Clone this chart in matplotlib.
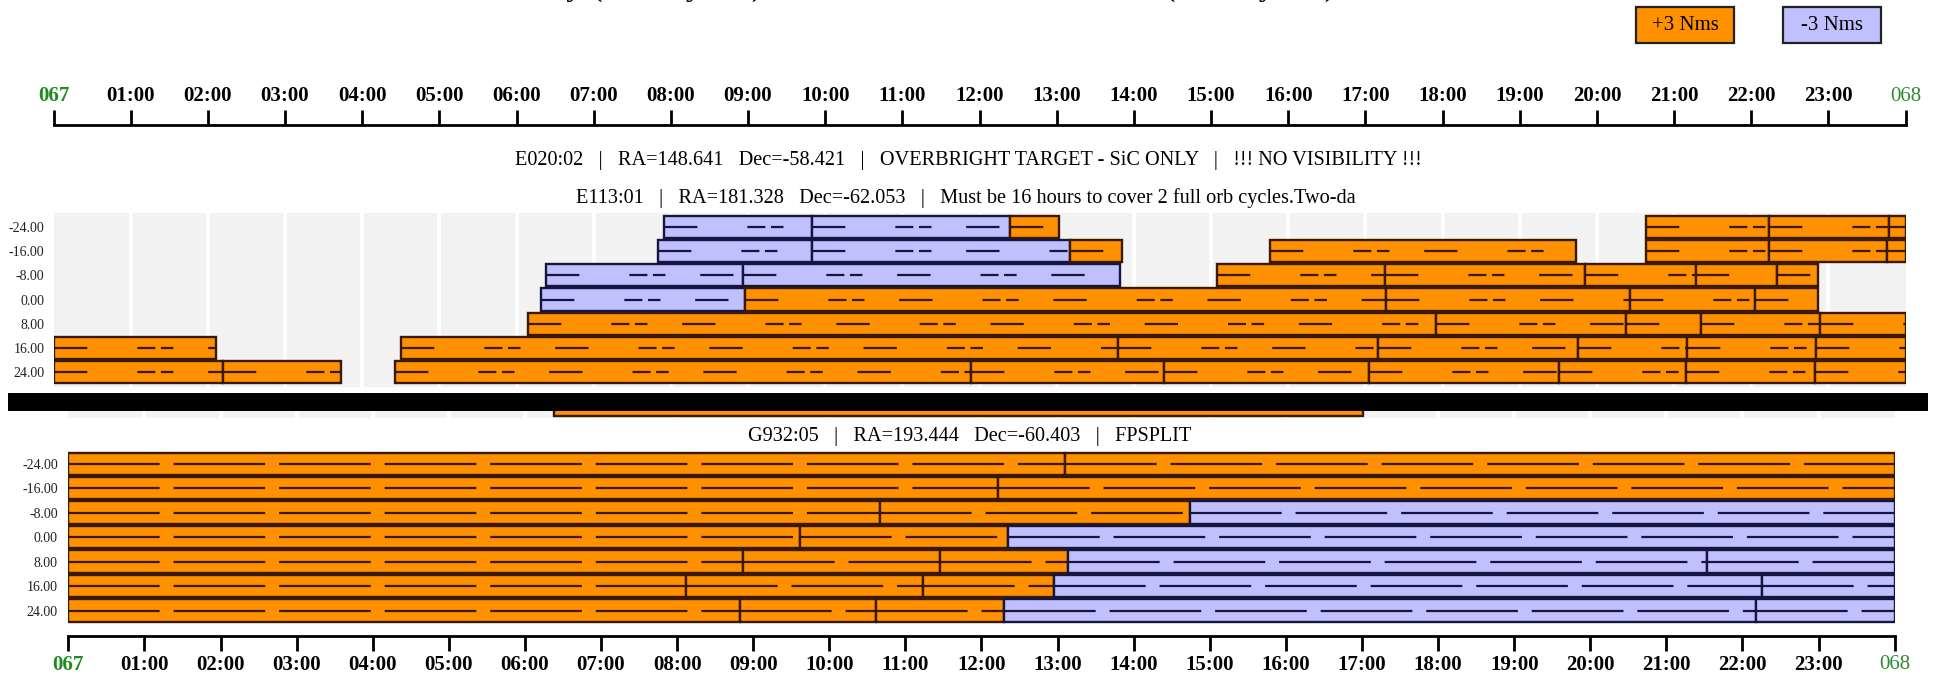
import matplotlib
matplotlib.use('Agg')
import matplotlib.pyplot as plt
from matplotlib.patches import Rectangle

W, H = 1937, 675
ORANGE = '#FF9000'
LAVENDER = '#C0C0FF'
ORANGE_EDGE = '#3b1800'
LAVENDER_EDGE = '#15153f'
SERIF = 'Liberation Serif'

plt.rcParams['lines.scale_dashes'] = False

hour_labels = ['067'] + ['%02d:00' % h for h in range(1, 24)] + ['068']
dec_labels = ['-24.00', '-16.00', '-8.00', '0.00', '8.00', '16.00', '24.00']

# (start hour, end hour, momentum sign) per dec row
e113_rows = [
    [(7.91, 9.83, '-'), (9.83, 12.40, '-'), (12.40, 13.03, '+'),
     (20.64, 22.23, '+'), (22.23, 23.79, '+'), (23.79, 24.0, '+')],
    [(7.83, 9.83, '-'), (9.83, 13.17, '-'), (13.17, 13.85, '+'), (15.77, 19.73, '+'),
     (20.64, 22.23, '+'), (22.23, 23.76, '+'), (23.76, 24.0, '+')],
    [(6.38, 8.93, '-'), (8.93, 13.82, '-'), (15.08, 17.25, '+'), (17.25, 19.84, '+'),
     (19.84, 21.28, '+'), (21.28, 22.33, '+'), (22.33, 22.87, '+')],
    [(6.32, 8.96, '-'), (8.96, 17.27, '+'), (17.27, 20.43, '+'), (20.43, 22.05, '+'),
     (22.05, 22.87, '+')],
    [(6.15, 17.91, '+'), (17.91, 20.38, '+'), (20.38, 21.35, '+'), (21.35, 22.89, '+'),
     (22.89, 24.0, '+')],
    [(0.0, 2.10, '+'), (4.50, 13.80, '+'), (13.80, 17.16, '+'), (17.16, 19.75, '+'),
     (19.75, 21.17, '+'), (21.17, 22.84, '+'), (22.84, 24.0, '+')],
    [(0.0, 2.19, '+'), (2.19, 3.72, '+'), (4.43, 11.89, '+'), (11.89, 14.39, '+'),
     (14.39, 17.05, '+'), (17.05, 19.51, '+'), (19.51, 21.15, '+'), (21.15, 22.82, '+'),
     (22.82, 24.0, '+')],
]

g932_rows = [
    [(0.0, 13.10, '+'), (13.10, 24.0, '+')],
    [(0.0, 12.22, '+'), (12.22, 24.0, '+')],
    [(0.0, 10.66, '+'), (10.66, 14.74, '+'), (14.74, 24.0, '-')],
    [(0.0, 9.61, '+'), (9.61, 12.35, '+'), (12.35, 24.0, '-')],
    [(0.0, 8.86, '+'), (8.86, 11.46, '+'), (11.46, 13.14, '+'), (13.14, 21.54, '-'),
     (21.54, 24.0, '-')],
    [(0.0, 8.12, '+'), (8.12, 11.23, '+'), (11.23, 12.95, '+'), (12.95, 22.26, '-'),
     (22.26, 24.0, '-')],
    [(0.0, 8.82, '+'), (8.82, 10.62, '+'), (10.62, 12.29, '+'), (12.29, 22.18, '-'),
     (22.18, 24.0, '-')],
]

# bar of the panel hidden under the black separator
hidden_segs = [(6.38, 17.01, '+')]

e020_text = 'E020:02   |   RA=148.641   Dec=-58.421   |   OVERBRIGHT TARGET - SiC ONLY   |   !!! NO VISIBILITY !!!'
e113_text = 'E113:01   |   RA=181.328   Dec=-62.053   |   Must be 16 hours to cover 2 full orb cycles.Two-da'
g932_text = 'G932:05   |   RA=193.444   Dec=-60.403   |   FPSPLIT'

fig = plt.figure(figsize=(W / 100, H / 100), dpi=100)


def px_axes(x0, y0, x1, y1):
    return fig.add_axes([x0 / W, 1 - y1 / H, (x1 - x0) / W, (y1 - y0) / H])


def clean(ax):
    for s in ax.spines.values():
        s.set_visible(False)
    ax.set_xticks([])
    ax.set_yticks([])


def draw_rows(ax, rows, dashes, y0=0):
    for i, segs in enumerate(rows):
        for start, end, sign in segs:
            face = ORANGE if sign == '+' else LAVENDER
            edge = ORANGE_EDGE if sign == '+' else LAVENDER_EDGE
            ax.barh(y0 + i, end - start, left=start, height=0.92, color=face,
                    edgecolor=edge, linewidth=1.7, zorder=2)
            ax.plot([start, end], [y0 + i, y0 + i], color=edge, lw=1.6,
                    linestyle=(0, dashes), zorder=3)


def time_axis(ax, top):
    for name, s in ax.spines.items():
        s.set_visible(name == ('top' if top else 'bottom'))
        s.set_linewidth(2)
    ax.set_yticks([])
    ax.set_xlim(0, 24)
    ax.set_xticks(range(25))
    ax.set_xticklabels(hour_labels, fontfamily=SERIF, fontsize=15, fontweight='bold')
    if top:
        ax.xaxis.set_ticks_position('top')
        ax.xaxis.set_label_position('top')
    ax.tick_params(axis='x', direction='out', length=10.5, width=2, pad=3)
    labs = ax.get_xticklabels()
    labs[0].set_color('#1e8c1e')
    labs[-1].set_color('#2e8b2e')
    labs[-1].set_fontweight('normal')
    ax.patch.set_alpha(0)


# title, mostly off the top of the image
fig.text(426 / W, 1 + 5 / H, 'Availability (Quality All)', fontfamily=SERIF,
         fontsize=24, va='baseline', ha='left')
fig.text(940 / W, 1 + 5 / H, 'Scheduled Time (Quality All)', fontfamily=SERIF,
         fontsize=24, va='baseline', ha='left')

# legend boxes
for x0, label, col in [(1636, '+3 Nms', ORANGE), (1783, '-3 Nms', LAVENDER)]:
    fig.add_artist(Rectangle((x0 / W, 1 - 43.3 / H), 98 / W, 36 / H,
                             transform=fig.transFigure, facecolor=col,
                             edgecolor='#222222', linewidth=1.6))
    fig.text((x0 + 49) / W, 1 - 25.5 / H, label, fontfamily=SERIF, fontsize=15,
             ha='center', va='center')

# top time axis
ax_top = px_axes(53.5, 125, 1905.6, 135)
time_axis(ax_top, True)

fig.text(968 / W, 1 - 160.6 / H, e020_text, fontfamily=SERIF, fontsize=14.6,
         ha='center', va='center')
fig.text(966 / W, 1 - 198 / H, e113_text, fontfamily=SERIF, fontsize=14.6,
         ha='center', va='center')

# E113:01 panel
ax1 = px_axes(53.5, 213, 1905.6, 387)
clean(ax1)
ax1.set_facecolor('#f2f2f2')
ax1.set_xlim(0, 24)
ax1.set_ylim(6.62, -0.58)
ax1.vlines(range(1, 24), -1, 7, colors='white', lw=2.6, zorder=1)
draw_rows(ax1, e113_rows, (24, 36, 13, 4, 9, 25))
ax1.set_yticks(range(7))
ax1.set_yticklabels(dec_labels, fontfamily=SERIF, fontsize=10, color='#222222')
ax1.tick_params(axis='y', length=0, pad=6.5)

# hidden panel under the separator
ax_h = px_axes(68.3, 393, 1894.7, 418)
clean(ax_h)
ax_h.set_facecolor('#f3f3f3')
ax_h.set_xlim(0, 24)
ax_h.set_ylim(0.55, -0.35)
ax_h.vlines(range(1, 24), -1, 2, colors='white', lw=3, zorder=1)
draw_rows(ax_h, [hidden_segs], (24, 36, 13, 4, 9, 25))

# black separator
fig.add_artist(Rectangle((8 / W, 1 - 411 / H), 1920 / W, 18.3 / H,
                         transform=fig.transFigure, facecolor='black',
                         edgecolor='none', zorder=10))

fig.text(970 / W, 1 - 436.7 / H, g932_text, fontfamily=SERIF, fontsize=14.6,
         ha='center', va='center')

# G932:05 panel
ax2 = px_axes(68.3, 450, 1894.7, 625)
clean(ax2)
ax2.set_xlim(0, 24)
ax2.set_ylim(6.593, -0.564)
draw_rows(ax2, g932_rows, (66, 10))
ax2.set_yticks(range(7))
ax2.set_yticklabels(dec_labels, fontfamily=SERIF, fontsize=10, color='#222222')
ax2.tick_params(axis='y', length=0, pad=7.5)

# bottom time axis
ax_bot = px_axes(68.3, 626, 1894.7, 636)
time_axis(ax_bot, False)

fig.savefig('out.png', dpi=100)
